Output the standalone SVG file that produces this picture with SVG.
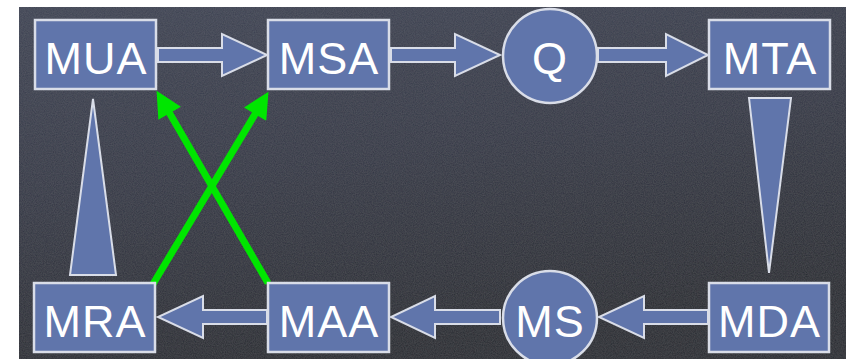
<svg xmlns="http://www.w3.org/2000/svg" width="846" height="359" viewBox="0 0 846 359">
  <defs>
    <linearGradient id="board" x1="0" y1="0" x2="0.3" y2="1">
      <stop offset="0" stop-color="#3c4253"/>
      <stop offset="0.5" stop-color="#323645"/>
      <stop offset="1" stop-color="#24272f"/>
    </linearGradient>
    <filter id="chalk" x="0" y="0" width="1" height="1">
      <feTurbulence type="fractalNoise" baseFrequency="0.9" numOctaves="2" seed="3" result="n"/>
      <feColorMatrix in="n" type="matrix" values="0 0 0 0 1  0 0 0 0 1  0 0 0 0 1  0 0 0 0.05 0" result="w"/>
      <feComposite in="w" in2="SourceGraphic" operator="atop"/>
    </filter>
    <marker id="ghead" viewBox="0 0 10 10" refX="5" refY="5" markerWidth="28" markerHeight="26" markerUnits="userSpaceOnUse" orient="auto">
      <path d="M0,0 L10,5 L0,10 z" fill="#00e600"/>
    </marker>
    <style>
      .box { fill: #6075ab; stroke: #d9dde8; stroke-width: 2.5; }
      .blk { fill: #6075ab; stroke: #d9dde8; stroke-width: 2; stroke-linejoin: miter; }
      .lbl { font-family: "Liberation Sans", Arial, sans-serif; font-size: 45px; letter-spacing: 1px; fill: #ffffff; text-anchor: middle; }
      .green { stroke: #00e600; stroke-width: 7; fill: none; }
    </style>
  </defs>

  <rect x="0" y="0" width="846" height="359" fill="#ffffff"/>
  <rect x="19" y="7" width="827" height="352" fill="url(#board)" filter="url(#chalk)"/>

  <g id="connectors">
    <polygon class="blk" points="158,48 222,48 222,34 267,55 222,76 222,62 158,62"/>
    <polygon class="blk" points="391,48 455,48 455,34 500,55 455,76 455,62 391,62"/>
    <polygon class="blk" points="598,48 666,48 666,34 708,55 666,76 666,62 598,62"/>
    <polygon class="blk" points="749,98 791,98 769,273"/>
    <polygon class="blk" points="708,310 644,310 644,296 599,317 644,338 644,324 708,324"/>
    <polygon class="blk" points="500,310 435,310 435,296 391,317 435,338 435,324 500,324"/>
    <polygon class="blk" points="267,310 203,310 203,296 158,317 203,338 203,324 267,324"/>
    <polygon class="blk" points="70,275 116,275 93,99"/>
    <line class="green" x1="153" y1="284" x2="261.8" y2="103" marker-end="url(#ghead)"/>
    <line class="green" x1="268" y1="283" x2="163.1" y2="102.1" marker-end="url(#ghead)"/>
  </g>

  <g id="MUA">
    <rect class="box" x="35" y="20" width="121" height="69"/>
    <text class="lbl" x="96" y="74">MUA</text>
  </g>
  <g id="MSA">
    <rect class="box" x="268" y="20" width="121" height="69"/>
    <text class="lbl" x="329" y="74">MSA</text>
  </g>
  <g id="Q">
    <circle class="box" cx="550" cy="56" r="47"/>
    <text class="lbl" x="550" y="74">Q</text>
  </g>
  <g id="MTA">
    <rect class="box" x="709" y="20" width="121" height="69"/>
    <text class="lbl" x="770" y="74">MTA</text>
  </g>
  <g id="MRA">
    <rect class="box" x="34" y="283" width="121" height="69"/>
    <text class="lbl" x="95" y="337">MRA</text>
  </g>
  <g id="MAA">
    <rect class="box" x="268" y="283" width="121" height="69"/>
    <text class="lbl" x="329" y="337">MAA</text>
  </g>
  <g id="MS">
    <circle class="box" cx="550" cy="318" r="47"/>
    <text class="lbl" x="550" y="337">MS</text>
  </g>
  <g id="MDA">
    <rect class="box" x="709" y="283" width="120" height="69"/>
    <text class="lbl" x="769.5" y="337">MDA</text>
  </g>
</svg>
